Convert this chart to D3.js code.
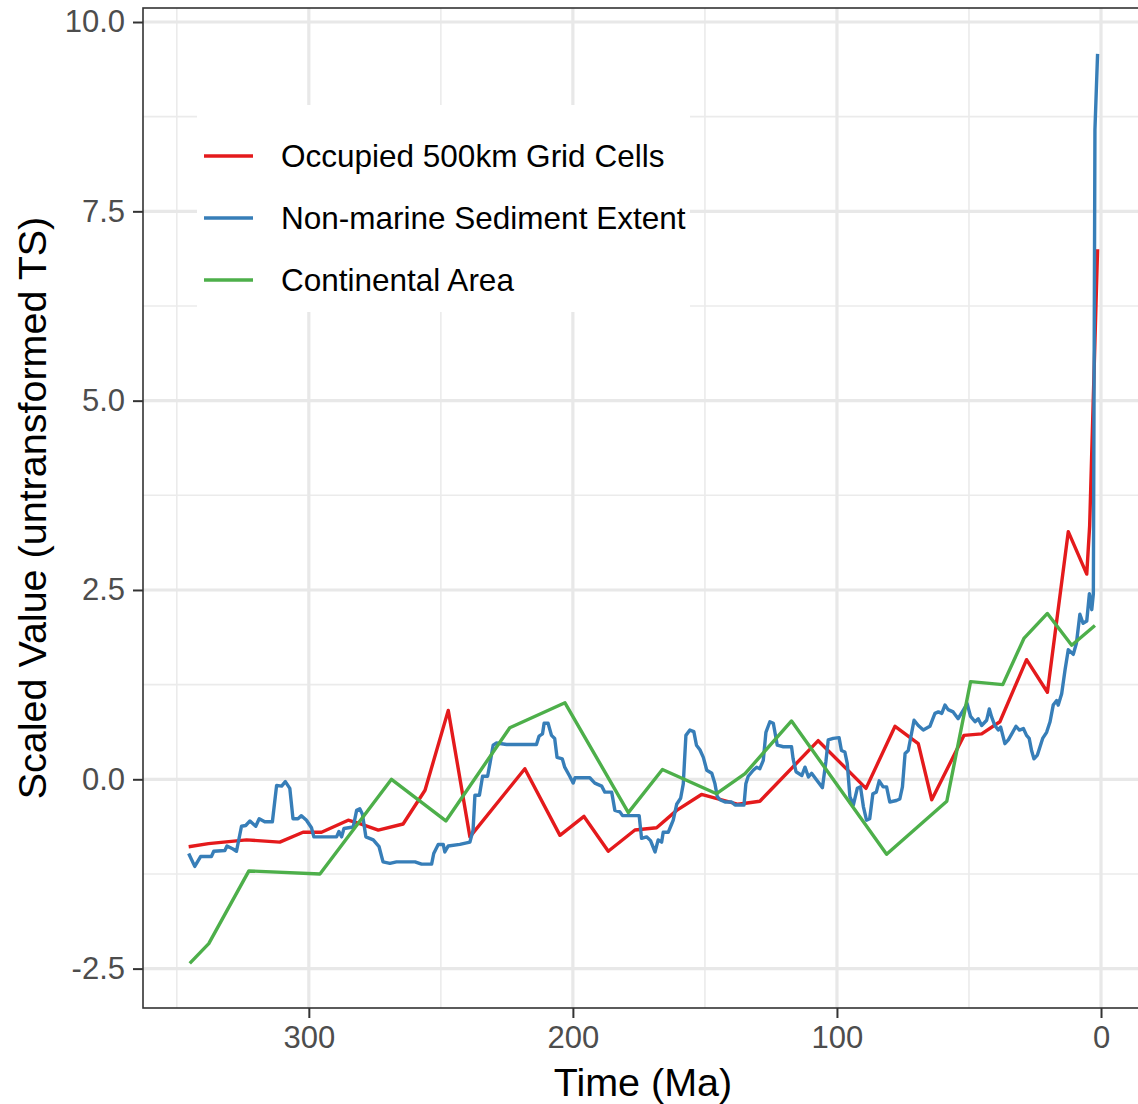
<!DOCTYPE html>
<meta charset="utf-8">
<script src="https://d3js.org/d3.v7.min.js"></script>
<style>
body { margin: 0; background: #fff; }
#chart { font-family: "Liberation Sans", Arial, Helvetica, sans-serif; }
</style>
<div id="chart"></div>
<script>
// series names and colours
var seriesNames = ["Occupied 500km Grid Cells", "Non-marine Sediment Extent", "Continental Area"];
var seriesColors = ["#E41A1C", "#377EB8", "#4DAF4A"];

// [time (Ma), scaled value]
var occupiedCells = [
  [345.5, -0.89], [338, -0.85], [323.6, -0.80], [311, -0.83], [302.2, -0.70], [295.2, -0.70],
  [285.1, -0.54], [280.7, -0.585], [273.7, -0.67], [264.3, -0.59], [256, -0.145], [247.2, 0.91],
  [239, -0.76], [218.2, 0.14], [204.9, -0.74], [195.8, -0.49], [186.6, -0.95], [176.5, -0.67],
  [168.3, -0.64], [160.7, -0.41], [151.3, -0.20], [137.4, -0.33], [129.2, -0.29], [107.1, 0.51],
  [89, -0.12], [78, 0.70], [69.2, 0.47], [64.1, -0.27], [51.9, 0.58], [45.2, 0.60], [38.3, 0.76],
  [28.2, 1.58], [20.3, 1.15], [12.4, 3.27], [5.4, 2.71], [4.3, 3.35], [1.3, 7.0]
];

var sedimentExtent = [
  [345.5, -0.98], [343.2, -1.15], [341, -1.02], [336.9, -1.02], [336, -0.95], [331.8, -0.94],
  [331, -0.88], [328.7, -0.92], [327.4, -0.95], [325.5, -0.62], [323.9, -0.61], [322.3, -0.55],
  [320.1, -0.62], [318.8, -0.52], [316.7, -0.56], [313.8, -0.56], [312.2, -0.08], [310.3, -0.09],
  [308.9, -0.03], [307.2, -0.12], [306, -0.52], [304.1, -0.52], [302.8, -0.48], [300.9, -0.54],
  [299, -0.64], [298.1, -0.76], [289.5, -0.76], [288.6, -0.69], [287.6, -0.76], [286.7, -0.65],
  [283.2, -0.63], [281.9, -0.41], [280.7, -0.39], [279.7, -0.46], [278.4, -0.76], [275.6, -0.80],
  [273.4, -0.89], [271.9, -1.09], [269.3, -1.11], [266.8, -1.09], [259.8, -1.09], [257.3, -1.12],
  [253.5, -1.12], [252.7, -0.98], [251, -0.86], [249.1, -0.86], [248.5, -0.96], [247.2, -0.88],
  [242.8, -0.86], [239, -0.83], [237.8, -0.67], [237.1, -0.21], [235.4, -0.21], [234.2, 0.04],
  [232.3, 0.04], [231.4, 0.21], [230.2, 0.45], [228.9, 0.48], [225.1, 0.46], [213.8, 0.46],
  [212.8, 0.57], [211.5, 0.60], [210.9, 0.74], [209.4, 0.74], [208.1, 0.58], [206.9, 0.54],
  [206, 0.29], [204, 0.27], [203.1, 0.16], [201.2, 0.04], [199.9, -0.05], [199.2, 0.02],
  [193.6, 0.02], [191.7, -0.05], [189.1, -0.09], [187.9, -0.17], [185.3, -0.17], [184.1, -0.41],
  [182.2, -0.43], [181.2, -0.48], [174.9, -0.48], [174, -0.78], [172.1, -0.76], [170.6, -0.81],
  [168.9, -0.96], [167.7, -0.80], [166.4, -0.83], [165.8, -0.70], [163.9, -0.70], [162.6, -0.59],
  [162, -0.54], [160.7, -0.33], [159.2, -0.25], [158.2, -0.06], [157.2, 0.58], [155.7, 0.65],
  [154.2, 0.63], [153.2, 0.45], [151.9, 0.39], [150.6, 0.29], [149.3, 0.12], [147.4, 0.08],
  [146.2, -0.06], [145.3, -0.23], [144.3, -0.27], [142.4, -0.30], [139.9, -0.30], [138.6, -0.34],
  [135.2, -0.34], [134.5, -0.06], [133.6, 0.04], [131.7, 0.12], [130.4, 0.16], [129.2, 0.14],
  [127.9, 0.25], [126.9, 0.62], [125.4, 0.76], [124.1, 0.74], [122.6, 0.45], [120.3, 0.43],
  [117.2, 0.43], [116.6, 0.27], [115.5, 0.10], [113.3, 0.05], [112.1, 0.16], [110.8, 0.03],
  [109.6, 0.08], [107.7, -0.01], [105.5, -0.11], [104.2, 0.23], [103.3, 0.52], [101.4, 0.54],
  [99.2, 0.55], [98.3, 0.38], [97, 0.36], [96.1, 0.21], [95.1, -0.23], [93.8, -0.34],
  [92.3, -0.12], [91.1, -0.10], [90, -0.36], [88.8, -0.54], [87.6, -0.52], [86.4, -0.19],
  [85.1, -0.17], [84, -0.02], [82.5, -0.10], [81.2, -0.10], [80, -0.30], [77.5, -0.28],
  [76.2, -0.26], [75.2, -0.10], [74.2, 0.34], [73, 0.38], [70.8, 0.78], [69.2, 0.71],
  [67.3, 0.65], [64.8, 0.70], [62.9, 0.87], [61.6, 0.89], [60.3, 0.87], [59.1, 0.98],
  [57.9, 0.92], [56, 0.89], [54.1, 0.80], [52.2, 0.91], [50.7, 1.0], [49.4, 0.83],
  [47.7, 0.76], [46.5, 0.80], [45.2, 0.71], [43.3, 0.78], [42.3, 0.93], [41.4, 0.82],
  [40.2, 0.71], [38.9, 0.65], [38, 0.69], [36.4, 0.47], [35.1, 0.52], [33.8, 0.60],
  [32.2, 0.70], [30.9, 0.65], [29.4, 0.67], [28.2, 0.58], [27.2, 0.54], [26.3, 0.38],
  [25.4, 0.27], [24.1, 0.32], [23.1, 0.43], [22.1, 0.54], [20.6, 0.62], [19.3, 0.76],
  [18.1, 0.98], [16.8, 1.04], [16.2, 0.98], [14.9, 1.13], [13.6, 1.45], [12.4, 1.71],
  [10.5, 1.65], [9.3, 1.80], [8, 2.18], [6.8, 2.06], [5.4, 2.09], [4.4, 2.45], [3.5, 2.24],
  [2.9, 2.45], [2.3, 8.58], [1.3, 9.58]
];

var continentalArea = [
  [345.1, -2.43], [337.9, -2.17], [322.7, -1.21], [295.8, -1.25], [268.7, 0.0], [248.1, -0.55],
  [223.9, 0.68], [203.0, 1.01], [179.0, -0.44], [166.1, 0.13], [145.6, -0.19], [134.8, 0.075],
  [117.2, 0.77], [81.2, -0.99], [58.4, -0.29], [49.4, 1.29], [37.2, 1.25], [29.2, 1.86],
  [20.3, 2.19], [11.1, 1.77], [2.3, 2.03]
];

var xMajorTicks = [300, 200, 100, 0];
var xMinorTicks = [350, 250, 150, 50];
var yMajorTicks = [-2.5, 0, 2.5, 5, 7.5, 10];
var yMinorTicks = [-1.25, 1.25, 3.75, 6.25, 8.75];

var allSeries = [occupiedCells, sedimentExtent, continentalArea];

var margin = { top: 8, right: 0, bottom: 96, left: 143 },
    width = 1000,
    height = 1000;

var svg = d3.select("#chart")
  .append("svg")
  .attr("width", 1138)
  .attr("height", 1104);

var g = svg.append("g")
  .attr("transform", "translate(" + margin.left + "," + margin.top + ")");

// reversed time axis, ggplot style 5% expansion
var x = d3.scaleLinear().domain([362.8, -15.9]).range([0, width]);
var y = d3.scaleLinear().domain([-3.02, 10.185]).range([height, 0]);

g.append("clipPath").attr("id", "panel-clip")
  .append("rect").attr("width", width).attr("height", height);

// grid
g.selectAll(".xminor").data(xMinorTicks).enter().append("line")
  .attr("x1", function(d) { return x(d); }).attr("x2", function(d) { return x(d); })
  .attr("y1", 0).attr("y2", height)
  .attr("stroke", "#ebebeb").attr("stroke-width", 1.6);
g.selectAll(".yminor").data(yMinorTicks).enter().append("line")
  .attr("y1", function(d) { return y(d); }).attr("y2", function(d) { return y(d); })
  .attr("x1", 0).attr("x2", width)
  .attr("stroke", "#ebebeb").attr("stroke-width", 1.6);
g.selectAll(".xmajor").data(xMajorTicks).enter().append("line")
  .attr("x1", function(d) { return x(d); }).attr("x2", function(d) { return x(d); })
  .attr("y1", 0).attr("y2", height)
  .attr("stroke", "#e8e8e8").attr("stroke-width", 3.2);
g.selectAll(".ymajor").data(yMajorTicks).enter().append("line")
  .attr("y1", function(d) { return y(d); }).attr("y2", function(d) { return y(d); })
  .attr("x1", 0).attr("x2", width)
  .attr("stroke", "#e8e8e8").attr("stroke-width", 3.2);

// legend box sits inside the panel, above the grid
var legend = g.append("g").attr("transform", "translate(" + (197 - margin.left) + "," + (105 - margin.top) + ")");
legend.append("rect").attr("width", 493).attr("height", 207).attr("fill", "#fff");

// lines
var line = d3.line()
  .x(function(d) { return x(d[0]); })
  .y(function(d) { return y(d[1]); });

g.append("g").attr("clip-path", "url(#panel-clip)")
  .selectAll("path").data(allSeries).enter().append("path")
  .attr("d", line)
  .attr("fill", "none")
  .attr("stroke", function(d, i) { return seriesColors[i]; })
  .attr("stroke-width", 3.4)
  .attr("stroke-linejoin", "round");

legend.selectAll("line").data(seriesNames).enter().append("line")
  .attr("x1", 7).attr("x2", 56)
  .attr("y1", function(d, i) { return 51 + i * 62; })
  .attr("y2", function(d, i) { return 51 + i * 62; })
  .attr("stroke", function(d, i) { return seriesColors[i]; })
  .attr("stroke-width", 3.4);
legend.selectAll("text").data(seriesNames).enter().append("text")
  .attr("x", 84)
  .attr("y", function(d, i) { return 51 + i * 62; })
  .attr("dy", "0.35em")
  .attr("font-size", "31.5px")
  .attr("fill", "#000")
  .text(function(d) { return d; });

// panel border
g.append("rect").attr("width", width).attr("height", height)
  .attr("fill", "none").attr("stroke", "#333333").attr("stroke-width", 1.6);

// axes
var xAxis = g.append("g")
  .attr("transform", "translate(0," + height + ")")
  .call(d3.axisBottom(x).tickValues(xMajorTicks).tickSize(10).tickPadding(8).tickFormat(function(d) { return String(d); }));
var yAxis = g.append("g")
  .call(d3.axisLeft(y).tickValues(yMajorTicks).tickSize(10).tickPadding(8).tickFormat(function(d) { return d.toFixed(1); }));

[xAxis, yAxis].forEach(function(a) {
  a.select(".domain").remove();
  a.selectAll(".tick line").attr("stroke", "#333333").attr("stroke-width", 2);
  a.selectAll(".tick text")
    .attr("fill", "#4d4d4d")
    .attr("font-size", "31px")
    .attr("font-family", "Liberation Sans, Arial, sans-serif");
});

// axis titles
svg.append("text")
  .attr("x", margin.left + width / 2)
  .attr("y", 1096)
  .attr("text-anchor", "middle")
  .attr("font-size", "39.5px")
  .attr("fill", "#000")
  .text("Time (Ma)");

svg.append("text")
  .attr("transform", "translate(46," + (margin.top + height / 2) + ")rotate(-90)")
  .attr("text-anchor", "middle")
  .attr("font-size", "39.5px")
  .attr("fill", "#000")
  .text("Scaled Value (untransformed TS)");
</script>
